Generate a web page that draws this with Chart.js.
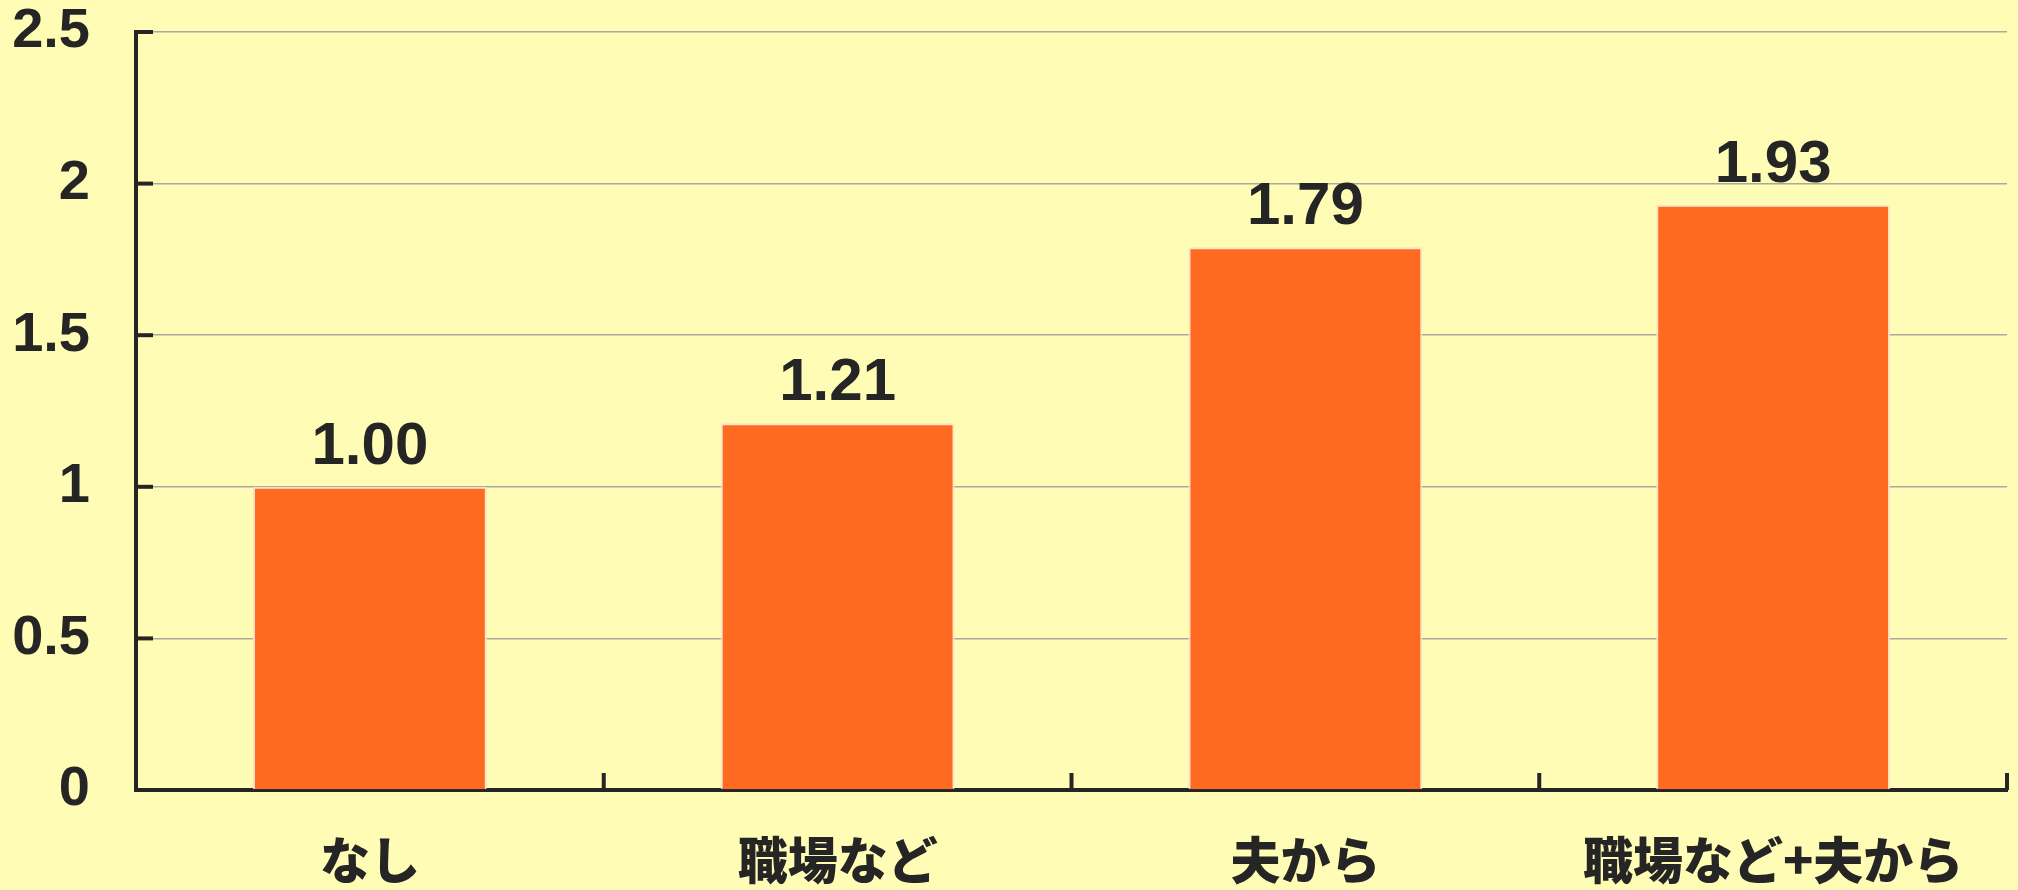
<!DOCTYPE html>
<html>
<head>
<meta charset="utf-8">
<script src="https://cdn.jsdelivr.net/npm/chart.js@4.4.1/dist/chart.umd.min.js"></script>
<style>
  html, body { margin: 0; padding: 0; background: #fffcb6; }
  #chart { display: block; }
</style>
</head>
<body>
<canvas id="chart" width="2018" height="890"></canvas>
<script>
// data
const categories = ['なし', '職場など', '夫から', '職場など+夫から'];
const values = [1.00, 1.21, 1.79, 1.93];
const valueLabels = ['1.00', '1.21', '1.79', '1.93'];
const yTickLabels = ['0', '0.5', '1', '1.5', '2', '2.5'];

const INK = '#252525';
const BAR = '#ff6a22';

// short inward tick marks on both axes + value labels above bars
const decorPlugin = {
    id: 'decor',
    afterDatasetsDraw(chart) {
        const ctx = chart.ctx;
        const area = chart.chartArea;
        const x = chart.scales.x;
        const y = chart.scales.y;
        const tick = 17;

        ctx.save();
        ctx.strokeStyle = INK;
        ctx.lineWidth = 4;
        ctx.lineCap = 'butt';

        // y ticks pointing into the plot
        y.ticks.forEach((t, i) => {
            if (i === 0) return;
            const py = y.getPixelForValue(t.value);
            ctx.beginPath();
            ctx.moveTo(area.left, py);
            ctx.lineTo(area.left + tick, py);
            ctx.stroke();
        });

        // x ticks at category boundaries, pointing up
        const n = categories.length;
        for (let i = 1; i <= n; i++) {
            let px;
            if (i < n) {
                px = (x.getPixelForValue(i - 1) + x.getPixelForValue(i)) / 2;
            } else {
                px = area.right;
            }
            ctx.beginPath();
            ctx.moveTo(px, area.bottom);
            ctx.lineTo(px, area.bottom - tick);
            ctx.stroke();
        }

        // value labels
        ctx.fillStyle = INK;
        ctx.font = 'bold 60px "Liberation Sans", Arial, sans-serif';
        ctx.textAlign = 'center';
        ctx.textBaseline = 'alphabetic';
        chart.getDatasetMeta(0).data.forEach((bar, i) => {
            ctx.fillText(valueLabels[i], bar.x, bar.y - 23);
        });
        ctx.restore();
    }
};

new Chart(document.getElementById('chart'), {
    type: 'bar',
    data: {
        labels: categories,
        datasets: [{
            data: values,
            backgroundColor: BAR,
            borderColor: 'rgba(255, 225, 200, 0.9)',
            borderWidth: 2,
            categoryPercentage: 1.0,
            barPercentage: 0.5
        }]
    },
    options: {
        responsive: false,
        animation: false,
        layout: { padding: { top: 32, right: 11, left: 0, bottom: 0 } },
        plugins: {
            legend: { display: false },
            tooltip: { enabled: false }
        },
        scales: {
            x: {
                grid: { display: false, drawTicks: false },
                border: { display: true, color: INK, width: 4 },
                ticks: {
                    color: INK,
                    padding: 40,
                    font: { family: '"Noto Sans CJK JP", sans-serif', size: 50, weight: '900' }
                },
                afterFit(scale) {
                    scale.height = 100;
                    scale.paddingLeft = 0;
                    scale.paddingRight = 0;
                }
            },
            y: {
                min: 0,
                max: 2.5,
                grid: {
                    color: (c) => c.index === 0 ? 'rgba(0,0,0,0)' : '#aaa9a0',
                    lineWidth: 1.5,
                    drawTicks: false
                },
                border: { display: true, color: INK, width: 4 },
                ticks: {
                    stepSize: 0.5,
                    color: INK,
                    padding: 46,
                    font: { family: '"Liberation Sans", Arial, sans-serif', size: 56, weight: 'bold' },
                    callback: (v, i) => yTickLabels[i]
                },
                afterFit(scale) {
                    scale.width = 136;
                    scale.paddingTop = 0;
                    scale.paddingBottom = 0;
                }
            }
        }
    },
    plugins: [decorPlugin]
});
</script>
</body>
</html>
